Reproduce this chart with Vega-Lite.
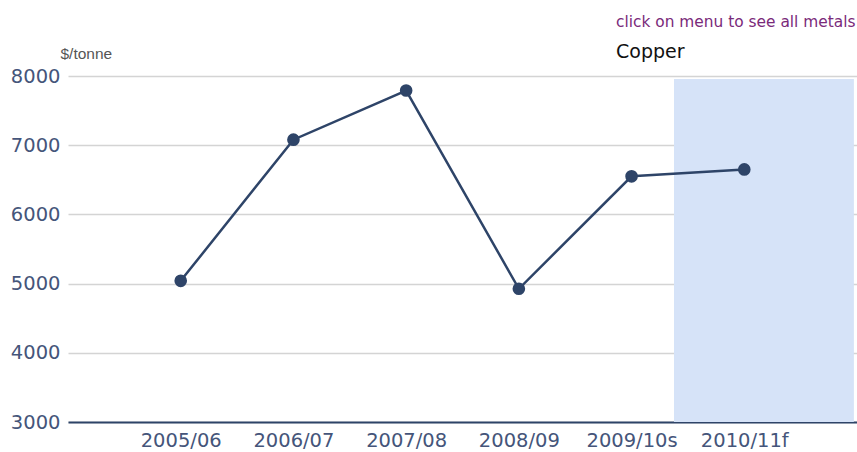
{
  "$schema": "https://vega.github.io/schema/vega-lite/v6.json",
  "width": 789,
  "height": 346,
  "autosize": {"type": "none"},
  "padding": {"left": 68, "top": 76, "right": 0, "bottom": 30},
  "background": "white",
  "title": {
    "text": "click on menu to see all metals",
    "subtitle": "Copper",
    "anchor": "start",
    "frame": "group",
    "dx": 548,
    "dy": 28,
    "font": "DejaVu Sans",
    "fontSize": 15.4,
    "fontWeight": "normal",
    "color": "#7a2a7a",
    "subtitleFont": "DejaVu Sans",
    "subtitleFontSize": 19,
    "subtitleColor": "#111111",
    "subtitlePadding": 13,
    "offset": 12
  },
  "config": {
    "view": {"stroke": null},
    "axis": {
      "labelFont": "DejaVu Sans",
      "labelFontSize": 19.5,
      "labelColor": "#45557a",
      "ticks": false,
      "gridColor": "#d4d4d4",
      "gridWidth": 1.5
    }
  },
  "data": {
    "values": [
      {"year": "2005/06", "price": 5040},
      {"year": "2006/07", "price": 7080},
      {"year": "2007/08", "price": 7790},
      {"year": "2008/09", "price": 4925},
      {"year": "2009/10s", "price": 6550},
      {"year": "2010/11f", "price": 6650}
    ]
  },
  "encoding": {
    "x": {
      "field": "year",
      "type": "ordinal",
      "sort": null,
      "scale": {"type": "point", "padding": 1, "domain": ["2005/06", "2006/07", "2007/08", "2008/09", "2009/10s", "2010/11f"]},
      "axis": {
        "title": null,
        "labelAngle": 0,
        "grid": false,
        "domain": true,
        "domainColor": "#2e4468",
        "domainWidth": 2,
        "labelPadding": 9
      }
    },
    "y": {
      "field": "price",
      "type": "quantitative",
      "scale": {"domain": [3000, 8000], "nice": false, "zero": false},
      "axis": {
        "title": "$/tonne",
        "titleAngle": 0,
        "titleAlign": "left",
        "titleBaseline": "alphabetic",
        "titleX": -8,
        "titleY": -18,
        "titleFont": "Liberation Sans",
        "titleFontSize": 15.5,
        "titleFontWeight": "normal",
        "titleColor": "#555555",
        "values": [3000, 4000, 5000, 6000, 7000, 8000],
        "format": "d",
        "domain": false,
        "grid": true,
        "labelPadding": 8
      }
    }
  },
  "layer": [
    {
      "mark": {"type": "bar", "width": 179, "xOffset": 19.5, "color": "#d6e3f8"},
      "encoding": {
        "x": {"datum": "2010/11f"},
        "y": {"datum": 7957},
        "y2": {"datum": 3000}
      }
    },
    {
      "mark": {"type": "line", "color": "#2e4468", "strokeWidth": 2.5}
    },
    {
      "mark": {"type": "point", "filled": true, "opacity": 1, "color": "#2e4468", "size": 160}
    }
  ]
}
